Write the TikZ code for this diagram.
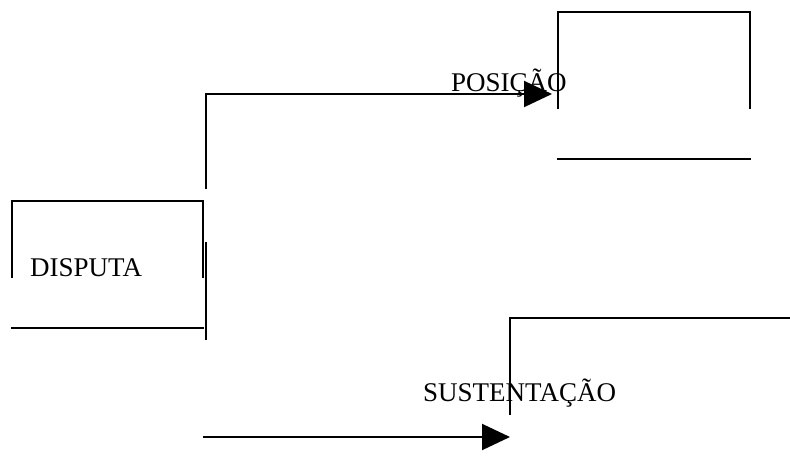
\documentclass[tikz,border=0pt]{standalone}
\usepackage{fontspec}
\setmainfont{Liberation Serif}
\usetikzlibrary{arrows.meta}
\begin{document}
\begin{tikzpicture}[x=1pt,y=-1pt,
  ln/.style={line width=2pt,line cap=rect},
  arr/.style={line width=2pt,-{Triangle[length=28pt,width=26pt]}},
  lbl/.style={anchor=base west,inner sep=0pt,font=\fontsize{27}{30}\selectfont}]
\useasboundingbox (0,0) rectangle (790,463);
% DISPUTA box
\coordinate (d1) at (11.5,277);
\coordinate (d2) at (11.5,201);
\coordinate (d3) at (203,201);
\coordinate (d4) at (203,277);
\draw[ln] (d1) -- (d2) -- (d3) -- (d4);
\coordinate (db1) at (11.5,328);
\coordinate (db2) at (203,328);
\draw[ln] (db1) -- (db2);
\coordinate (dv1) at (205.5,243);
\coordinate (dv2) at (205.5,339);
\draw[ln] (dv1) -- (dv2);
\node[lbl] (disputa) at (30,276) {DISPUTA};
% POSICAO box
\coordinate (p1) at (558,108);
\coordinate (p2) at (558,12);
\coordinate (p3) at (750,12);
\coordinate (p4) at (750,108);
\draw[ln] (p1) -- (p2) -- (p3) -- (p4);
\coordinate (pb1) at (558,159);
\coordinate (pb2) at (750,159);
\draw[ln] (pb1) -- (pb2);
% connector to POSICAO
\coordinate (c1) at (206,189);
\coordinate (c2) at (206,94);
\coordinate (c3) at (552,94);
\draw[arr] (c1) -- (c2) -- (c3);
\node[lbl] (posicao) at (451,91) {POSIÇÃO};
% SUSTENTACAO box
\coordinate (s1) at (510,414);
\coordinate (s2) at (510,318);
\coordinate (s3) at (790,318);
\draw[ln] (s1) -- (s2) -- (s3);
% lower arrow
\coordinate (a1) at (203,437);
\coordinate (a2) at (510,437);
\draw[arr] (a1) -- (a2);
\node[lbl] (sust) at (423,401) {SUSTENTAÇÃO};
\end{tikzpicture}
\end{document}
